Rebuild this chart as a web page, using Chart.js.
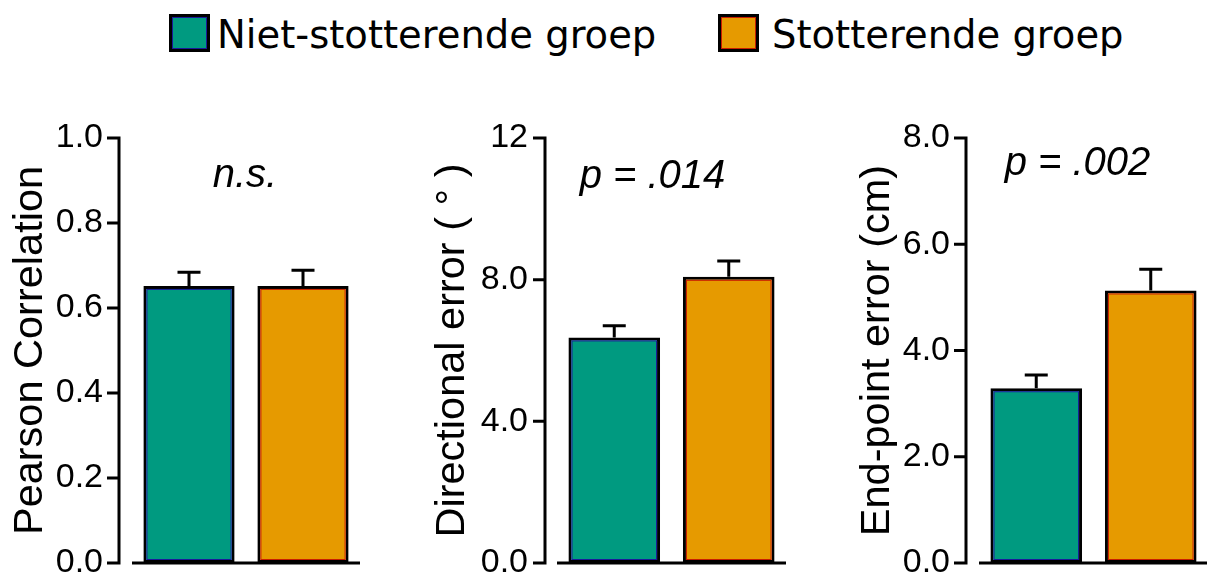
<!DOCTYPE html>
<html><head><meta charset="utf-8">
<script src="https://cdn.jsdelivr.net/npm/chart.js@4.4.0/dist/chart.umd.min.js"></script>
<style>
html,body{margin:0;padding:0;width:1207px;height:579px;overflow:hidden;background:#fff;position:relative;}
canvas{position:absolute;top:0;}
.lg-box{position:absolute;top:14px;width:41px;height:38px;box-sizing:border-box;border:3px solid #000;}
.lg-text{position:absolute;top:16px;font-family:'DejaVu Sans';font-size:38.5px;line-height:38px;color:#000;white-space:nowrap;}
</style></head><body>
<div class="lg-box" id="lgBox0" style="left:169px;"></div>
<div class="lg-text" id="lgText0" style="left:217px;"></div>
<div class="lg-box" id="lgBox1" style="left:718px;"></div>
<div class="lg-text" id="lgText1" style="left:772px;"></div>
<canvas id="c1" width="380" height="640" style="left:0px;width:380px;height:640px;"></canvas>
<canvas id="c2" width="420" height="640" style="left:380px;width:420px;height:640px;"></canvas>
<canvas id="c3" width="410" height="640" style="left:800px;width:410px;height:640px;"></canvas>
<script>
// ---- data ----
const categories = ['Niet-stotterende groep', 'Stotterende groep'];
const barColors = ['#009a80', '#e69a00'];
const innerColors = ['#1a1a9a', '#c81e00'];

const pearsonMeans = [0.652, 0.652];
const pearsonErr = [0.032, 0.037];
const pearsonTicks = ['0.0', '0.2', '0.4', '0.6', '0.8', '1.0'];

const directionalMeans = [6.37, 8.08];
const directionalErr = [0.33, 0.45];
const directionalTicks = ['0.0', '4.0', '8.0', '12'];

const endpointMeans = [3.29, 5.13];
const endpointErr = [0.25, 0.40];
const endpointTicks = ['0.0', '2.0', '4.0', '6.0', '8.0'];

const yTitles = ['Pearson Correlation', 'Directional error ( \u00B0 )', 'End-point error (cm)'];
const annotations = ['n.s.', 'p = .014', 'p = .002'];

// ---- legend ----
categories.forEach((c, i) => {
  document.getElementById('lgText' + i).textContent = c;
  const b = document.getElementById('lgBox' + i);
  b.style.background = barColors[i];
  b.style.boxShadow = 'inset 0 0 0 1px ' + innerColors[i];
});

const FONT = "'Liberation Sans', Arial, sans-serif";

const customPlugin = {
  id: 'custom',
  afterDatasetsDraw(chart, args, o) {
    const ctx = chart.ctx, ca = chart.chartArea;
    const xs = chart.scales.x, ys = chart.scales.y;
    const meta = chart.getDatasetMeta(0);
    const ds = chart.data.datasets[0];
    ctx.save();
    // inner thin outline
    meta.data.forEach((bar, i) => {
      const p = bar.getProps(['x', 'y', 'base', 'width'], true);
      const l = p.x - p.width / 2 + 3.5, r = p.x + p.width / 2 - 3.5;
      const t = p.y + 3.5, b = p.base - 3.5;
      ctx.strokeStyle = innerColors[i];
      ctx.lineWidth = 1;
      ctx.strokeRect(l, t, r - l, b - t);
    });
    // error bars
    ctx.strokeStyle = '#000';
    ctx.lineWidth = 3;
    meta.data.forEach((bar, i) => {
      const p = bar.getProps(['x', 'y'], true);
      const yt = ys.getPixelForValue(ds.data[i] + ds.errors[i]);
      ctx.beginPath();
      ctx.moveTo(p.x, p.y);
      ctx.lineTo(p.x, yt);
      ctx.moveTo(p.x - 11.5, yt);
      ctx.lineTo(p.x + 11.5, yt);
      ctx.stroke();
    });
    // x axis line
    const y0 = ys.getPixelForValue(ys.min);
    ctx.beginPath();
    ctx.moveTo(ca.left, y0);
    ctx.lineTo(ca.right, y0);
    ctx.stroke();
    // y axis line + ticks (offset from the plot)
    const ax = ca.left - o.gap;
    const yTop = ys.getPixelForValue(ys.max);
    ctx.beginPath();
    ctx.moveTo(ax, yTop - 1.5);
    ctx.lineTo(ax, y0 + 1.5);
    ys.ticks.forEach(t => {
      const py = ys.getPixelForValue(t.value);
      ctx.moveTo(ax - 12, py);
      ctx.lineTo(ax, py);
    });
    ctx.stroke();
    // annotation
    ctx.fillStyle = '#000';
    ctx.font = 'italic 40px ' + FONT;
    ctx.textAlign = 'center';
    ctx.textBaseline = 'alphabetic';
    const mid = (xs.getPixelForValue(0) + xs.getPixelForValue(1)) / 2;
    ctx.fillText(o.text, mid + o.dx, o.baseline);
    ctx.restore();
  }
};

function makePanel(id, means, errs, ticks, max, step, title, note, lay) {
  new Chart(document.getElementById(id), {
    type: 'bar',
    data: {
      labels: categories,
      datasets: [{
        data: means,
        errors: errs,
        backgroundColor: barColors,
        borderColor: '#000',
        borderWidth: 3,
        borderSkipped: false,
        categoryPercentage: 1.0,
        barPercentage: 0.8
      }]
    },
    options: {
      responsive: false,
      animation: false,
      events: [],
      layout: { padding: { left: lay.pl, right: lay.pr, top: 138, bottom: 77 } },
      plugins: {
        legend: { display: false },
        tooltip: { enabled: false },
        custom: { gap: lay.gap, text: note, dx: lay.dx, baseline: lay.baseline }
      },
      scales: {
        x: { display: false },
        y: {
          min: 0, max: max,
          afterFit(s) { s.width = lay.yw; },
          grid: { display: false, drawTicks: false },
          border: { display: false },
          ticks: {
            stepSize: step,
            padding: 29,
            color: '#000',
            font: { family: FONT, size: 34, lineHeight: 1 },
            callback: (v, i) => ticks[i]
          },
          title: {
            display: true,
            text: title,
            color: '#000',
            padding: 0,
            font: { family: FONT, size: 41.5, lineHeight: 1 }
          }
        }
      }
    },
    plugins: [customPlugin]
  });
}

makePanel('c1', pearsonMeans, pearsonErr, pearsonTicks, 1.0, 0.2, yTitles[0], annotations[0],
  { pl: 10, yw: 122, pr: 20, gap: 13, dx: -1, baseline: 187 });
makePanel('c2', directionalMeans, directionalErr, directionalTicks, 12, 4, yTitles[1], annotations[1],
  { pl: 52, yw: 125, pr: 14, gap: 12, dx: -19, baseline: 188 });
makePanel('c3', endpointMeans, endpointErr, endpointTicks, 8, 2, yTitles[2], annotations[2],
  { pl: 57, yw: 122, pr: 2, gap: 13, dx: -16, baseline: 175 });
</script>
</body></html>
